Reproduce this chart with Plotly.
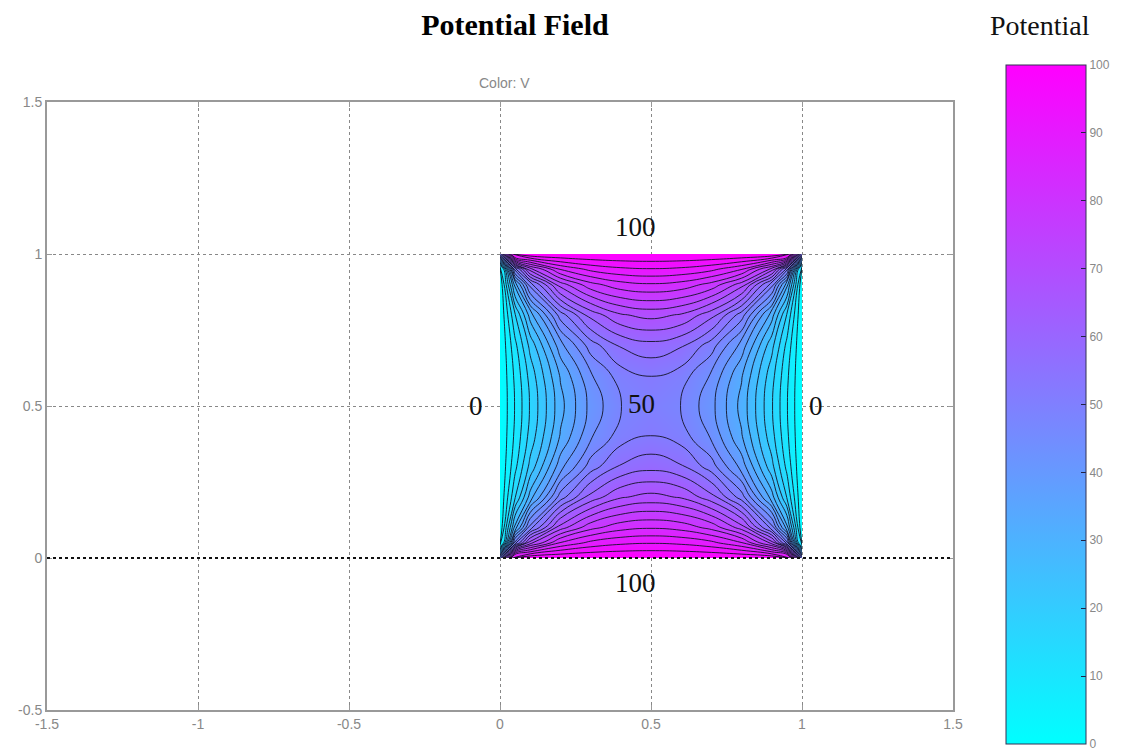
import plotly.graph_objects as go

# grid coordinates of the square plate
x_coords = [0.0, 0.05, 0.1, 0.2, 0.3, 0.4, 0.5, 0.6, 0.7, 0.8, 0.9, 0.95, 1.0]
y_coords = [0.0, 0.05, 0.1, 0.2, 0.3, 0.4, 0.5, 0.6, 0.7, 0.8, 0.9, 0.95, 1.0]

# potential values (rows = y, cols = x)
row_y000 = [50, 100, 100, 100, 100, 100, 100, 100, 100, 100, 100, 100, 50]
row_y005 = [0, 50, 70.5, 84.3, 89.1, 91.1, 91.7, 91.1, 89.1, 84.3, 70.5, 50, 0]
row_y010 = [0, 29.5, 50, 70.2, 78.7, 82.5, 83.6, 82.5, 78.7, 70.2, 50, 29.5, 0]
row_y020 = [0, 15.7, 29.8, 50, 61.6, 67.6, 69.4, 67.6, 61.6, 50, 29.8, 15.7, 0]
row_y030 = [0, 10.9, 21.3, 38.4, 50, 56.6, 58.7, 56.6, 50, 38.4, 21.3, 10.9, 0]
row_y040 = [0, 8.9, 17.5, 32.4, 43.4, 50, 52.2, 50, 43.4, 32.4, 17.5, 8.9, 0]
row_y050 = [0, 8.3, 16.4, 30.6, 41.3, 47.8, 50, 47.8, 41.3, 30.6, 16.4, 8.3, 0]
row_y060 = [0, 8.9, 17.5, 32.4, 43.4, 50, 52.2, 50, 43.4, 32.4, 17.5, 8.9, 0]
row_y070 = [0, 10.9, 21.3, 38.4, 50, 56.6, 58.7, 56.6, 50, 38.4, 21.3, 10.9, 0]
row_y080 = [0, 15.7, 29.8, 50, 61.6, 67.6, 69.4, 67.6, 61.6, 50, 29.8, 15.7, 0]
row_y090 = [0, 29.5, 50, 70.2, 78.7, 82.5, 83.6, 82.5, 78.7, 70.2, 50, 29.5, 0]
row_y095 = [0, 50, 70.5, 84.3, 89.1, 91.1, 91.7, 91.1, 89.1, 84.3, 70.5, 50, 0]
row_y100 = [50, 100, 100, 100, 100, 100, 100, 100, 100, 100, 100, 100, 50]
potential = [row_y000, row_y005, row_y010, row_y020, row_y030, row_y040, row_y050,
             row_y060, row_y070, row_y080, row_y090, row_y095, row_y100]

# boundary labels
label_texts = ["100", "0", "50", "0", "100"]
label_x = [0.45, -0.08, 0.47, 1.046, 0.45]
label_y = [1.09, 0.50, 0.507, 0.50, -0.082]

x_ticks = [-1.5, -1, -0.5, 0, 0.5, 1, 1.5]
x_tick_text = ["-1.5", "-1", "-0.5", "0", "0.5", "1", "1.5"]
y_ticks = [-0.5, 0, 0.5, 1, 1.5]
y_tick_text = ["-0.5", "0", "0.5", "1", "1.5"]
cbar_range = [0, 100]
cbar_ticks = [0, 10, 20, 30, 40, 50, 60, 70, 80, 90, 100]

cool = [[0, "rgb(0,255,255)"], [1, "rgb(255,0,255)"]]
tick_font = dict(family="Liberation Sans", size=14, color="#888")

fig = go.Figure()
fig.add_trace(go.Contour(
    x=x_coords, y=y_coords, z=potential,
    zmin=cbar_range[0], zmax=cbar_range[1], zauto=False,
    colorscale=cool, showscale=False,
    contours=dict(start=4, end=96, size=4, coloring="heatmap", showlines=True),
    line=dict(color="rgba(20,20,40,0.9)", width=1, smoothing=1.3),
    hoverinfo="skip",
))

# continuous colour bar (no visible points)
fig.add_trace(go.Scatter(
    x=[None, None], y=[None, None], mode="markers",
    marker=dict(color=cbar_range, cmin=cbar_range[0], cmax=cbar_range[1],
                colorscale=cool, showscale=True, size=0,
                colorbar=dict(
                    thicknessmode="pixels", thickness=80,
                    lenmode="pixels", len=679,
                    x=1.0585, xanchor="left", xpad=0,
                    y=-0.0559, yanchor="bottom", ypad=0,
                    outlinecolor="#335", outlinewidth=1,
                    tickvals=cbar_ticks, ticks="inside", ticklen=5, tickcolor="#224",
                    ticklabeloverflow="allow",
                    tickfont=dict(family="Liberation Sans", size=12, color="#888"),
                )),
    hoverinfo="skip", showlegend=False,
))

for t, xx, yy in zip(label_texts, label_x, label_y):
    fig.add_annotation(x=xx, y=yy, text=t, showarrow=False,
                       font=dict(family="Liberation Serif", size=27, color="#111"))

fig.add_annotation(xref="paper", yref="paper", x=0.5055, y=1.031, text="Color: V",
                   showarrow=False, yanchor="middle",
                   font=dict(family="Liberation Sans", size=14, color="#888"))
fig.add_annotation(xref="paper", yref="paper", x=1.096, y=1.1266, text="Potential",
                   showarrow=False, yanchor="middle", xanchor="center",
                   font=dict(family="Liberation Serif", size=28, color="#111"))

fig.add_shape(type="line", xref="paper", x0=0, x1=1, yref="y", y0=0, y1=0,
              line=dict(color="#111", width=2, dash="dot"), layer="above")

axis_common = dict(showline=True, linecolor="#999", linewidth=2, mirror="ticks",
                   ticks="inside", ticklen=5, tickcolor="#999",
                   showgrid=True, gridcolor="#888", griddash="dot", gridwidth=1,
                   zeroline=False, tickfont=tick_font)

fig.update_layout(
    width=1115, height=745,
    margin=dict(l=39, r=170, t=94, b=43, autoexpand=False),
    paper_bgcolor="white", plot_bgcolor="white",
    title=dict(text="<b>Potential Field</b>", x=0.4547, xanchor="center",
               y=0.9785, yanchor="middle",
               font=dict(family="Liberation Serif", size=30, color="#000")),
    xaxis=dict(range=[-1.5, 1.5], tickvals=x_ticks, ticktext=x_tick_text, **axis_common),
    yaxis=dict(range=[-0.5, 1.5], tickvals=y_ticks, ticktext=y_tick_text, **axis_common),
    showlegend=False,
)

fig.write_html("out.html")
